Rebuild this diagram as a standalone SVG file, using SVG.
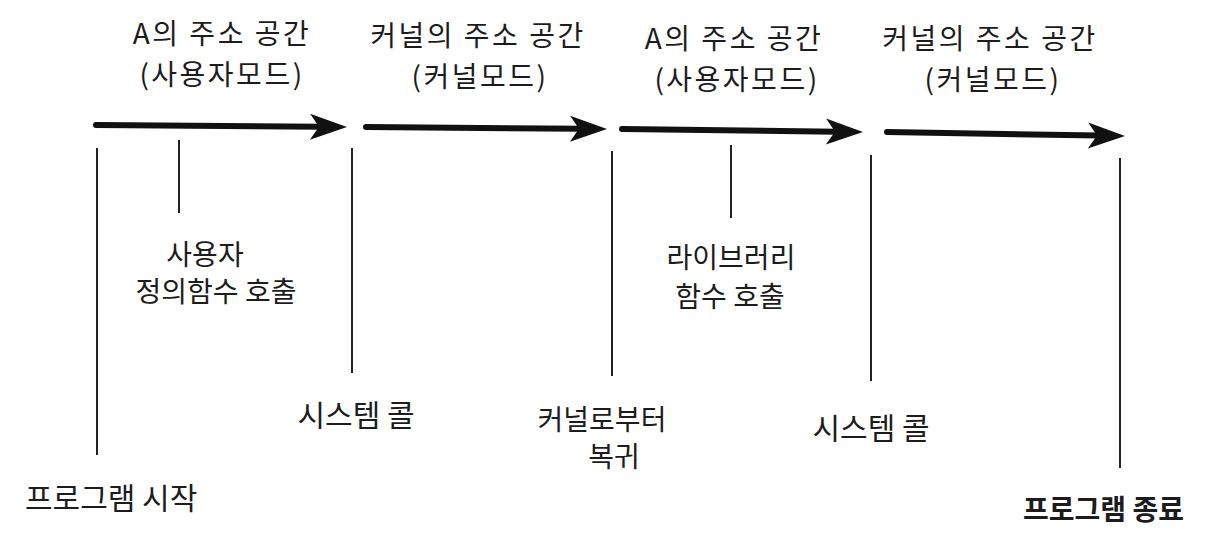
<svg xmlns="http://www.w3.org/2000/svg" width="1218" height="550" viewBox="0 0 1218 550">
<style>
text{font-family:"Noto Sans CJK KR","Noto Sans",sans-serif;fill:#1c1c1c;font-size:28px}
.m{text-anchor:middle}
.t{font-size:28px;letter-spacing:2.5px}
.s{font-size:30px}
.b{font-weight:bold;font-size:28px}
.tick{stroke:#222;stroke-width:2;fill:none}
.shaft{stroke:#111;stroke-width:6;fill:none;stroke-linecap:round}
.head{fill:#111}
</style>
<defs>
<path id="ah" d="M0,0 L-37,-13 L-28,0 L-37,13 Z"/>
</defs>
<rect width="1218" height="550" fill="#ffffff"/>
<g id="connectors">
<path class="shaft" d="M96,125 L321,126.8"/>
<use href="#ah" class="head" transform="translate(347,127) rotate(0.46)"/>
<path class="shaft" d="M366,127 L581,128.8"/>
<use href="#ah" class="head" transform="translate(607,129) rotate(0.48)"/>
<path class="shaft" d="M622,129 L837,131.7"/>
<use href="#ah" class="head" transform="translate(863,132) rotate(0.71)"/>
<path class="shaft" d="M887,132 L1099,135.6"/>
<use href="#ah" class="head" transform="translate(1125,136) rotate(0.96)"/>
<line class="tick" x1="97" y1="148" x2="97" y2="455"/>
<line class="tick" x1="179" y1="140" x2="179" y2="213"/>
<line class="tick" x1="352" y1="148" x2="352" y2="373"/>
<line class="tick" x1="612" y1="151" x2="612" y2="376"/>
<line class="tick" x1="731" y1="145" x2="731" y2="218"/>
<line class="tick" x1="871" y1="155" x2="871" y2="381"/>
<line class="tick" x1="1120" y1="158" x2="1120" y2="468"/>
</g>
<g id="label-user1">
<text class="m t"><tspan x="222" y="44">A의 주소 공간</tspan><tspan x="222" y="85">(사용자모드)</tspan></text>
</g>
<g id="label-kernel1">
<text class="m t"><tspan x="478" y="46">커널의 주소 공간</tspan><tspan x="480" y="87">(커널모드)</tspan></text>
</g>
<g id="label-user2">
<text class="m t"><tspan x="734" y="49">A의 주소 공간</tspan><tspan x="737" y="90">(사용자모드)</tspan></text>
</g>
<g id="label-kernel2">
<text class="m t"><tspan x="990" y="49">커널의 주소 공간</tspan><tspan x="993" y="90">(커널모드)</tspan></text>
</g>
<g id="user-func">
<text class="m"><tspan x="205" y="265">사용자</tspan><tspan x="216" y="302">정의함수 호출</tspan></text>
</g>
<g id="lib-func">
<text class="m"><tspan x="731" y="268">라이브러리</tspan><tspan x="730" y="307">함수 호출</tspan></text>
</g>
<g id="syscall1">
<text class="m s" x="356" y="426">시스템 콜</text>
</g>
<g id="return">
<text class="m"><tspan x="602" y="430">커널로부터</tspan><tspan x="614" y="467">복귀</tspan></text>
</g>
<g id="syscall2">
<text class="m s" x="871" y="439">시스템 콜</text>
</g>
<g id="start">
<text class="s" x="25" y="509">프로그램 시작</text>
</g>
<g id="end">
<text class="b" x="1023" y="520">프로그램 종료</text>
</g>
</svg>
